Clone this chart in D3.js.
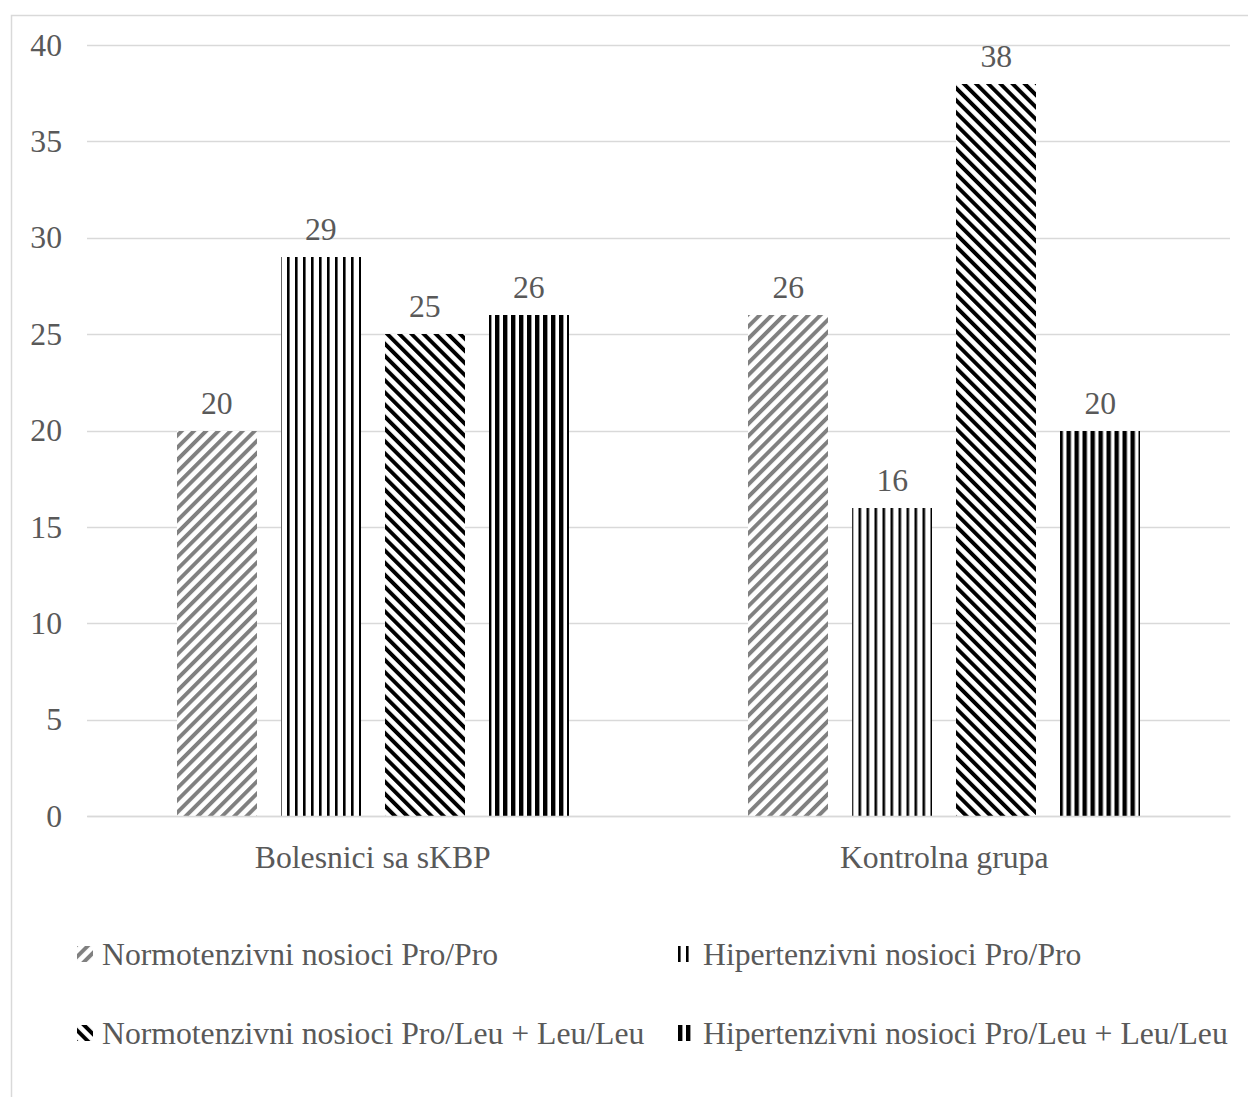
<!DOCTYPE html>
<html>
<head>
<meta charset="utf-8">
<script src="https://cdn.jsdelivr.net/npm/d3@7"></script>
<style>
  html, body { margin: 0; padding: 0; background: #fff; }
  svg { display: block; }
  text { font-family: "Liberation Serif", "Times New Roman", serif; fill: #595959; }
</style>
</head>
<body>
<svg id="chart" width="1248" height="1097"></svg>
<script>
// Groups along the x axis
const categories = ["Bolesnici sa sKBP", "Kontrolna grupa"];

// Series (one bar per group each)
const seriesNames = [
  "Normotenzivni nosioci Pro/Pro",
  "Hipertenzivni nosioci Pro/Pro",
  "Normotenzivni nosioci Pro/Leu + Leu/Leu",
  "Hipertenzivni nosioci Pro/Leu + Leu/Leu"
];
const normoProPro = [20, 26];
const hiperProPro = [29, 16];
const normoProLeu = [25, 38];
const hiperProLeu = [26, 20];
const seriesValues = [normoProPro, hiperProPro, normoProLeu, hiperProLeu];

const yTicks = [0, 5, 10, 15, 20, 25, 30, 35, 40];

const svg = d3.select("#chart");
const FONT = 31.7;

// Fill patterns for each series
const defs = svg.append("defs");
function stripes(id, period, thick, color, angle) {
  const p = defs.append("pattern")
    .attr("id", id)
    .attr("patternUnits", "userSpaceOnUse")
    .attr("width", period)
    .attr("height", period)
    .attr("patternTransform", angle ? `rotate(${angle})` : null);
  p.append("rect").attr("width", period).attr("height", period).attr("fill", "#fff");
  p.append("rect").attr("x", 0).attr("y", 0)
    .attr("width", thick).attr("height", period).attr("fill", color);
}
stripes("pat0", 8.6, 3.9, "#808080", 45);   // wide upward diagonal, grey
stripes("pat1", 8, 2.6, "#000", 0);         // narrow vertical
stripes("pat2", 8.6, 3.9, "#000", -45);     // wide downward diagonal
stripes("pat3", 8, 4.4, "#000", 0);         // dark vertical
const fills = ["url(#pat0)", "url(#pat1)", "url(#pat2)", "url(#pat3)"];

// Chart area frame
svg.append("rect")
  .attr("x", 11.5).attr("y", 15.5)
  .attr("width", 1300).attr("height", 1200)
  .attr("fill", "none").attr("stroke", "#d9d9d9").attr("stroke-width", 1.5);

const plot = { left: 87, right: 1230, top: 45, bottom: 816 };

const y = d3.scaleLinear().domain([0, 40]).range([plot.bottom, plot.top]);
const x0 = d3.scaleBand().domain(categories).range([plot.left, plot.right]).padding(0);
const x1 = d3.scaleBand().domain(d3.range(seriesNames.length))
  .range([0, x0.bandwidth()]).paddingInner(0.2308).paddingOuter(0.863);

// Gridlines
svg.append("g")
  .selectAll("line")
  .data(yTicks)
  .join("line")
  .attr("x1", plot.left).attr("x2", plot.right)
  .attr("y1", d => Math.round(y(d)) + 0.5).attr("y2", d => Math.round(y(d)) + 0.5)
  .attr("stroke", "#d9d9d9").attr("stroke-width", 1.5);

// Y axis labels
const yAxis = d3.axisLeft(y).tickValues(yTicks).tickSize(0).tickPadding(0);
const yg = svg.append("g").attr("transform", `translate(62,0)`).call(yAxis);
yg.select(".domain").remove();
yg.selectAll("text")
  .attr("font-size", FONT).attr("fill", "#595959")
  .attr("font-family", "Liberation Serif, serif");

// Bars
const groups = svg.append("g")
  .selectAll("g")
  .data(categories)
  .join("g")
  .attr("transform", c => `translate(${x0(c)},0)`);

groups.selectAll("rect")
  .data((c, ci) => seriesValues.map((vals, si) => ({ si, v: vals[ci] })))
  .join("rect")
  .attr("x", d => x1(d.si))
  .attr("width", x1.bandwidth())
  .attr("y", d => y(d.v))
  .attr("height", d => y(0) - y(d.v))
  .attr("fill", d => fills[d.si])
  .attr("shape-rendering", "crispEdges");

// Value labels
groups.selectAll("text.val")
  .data((c, ci) => seriesValues.map((vals, si) => ({ si, v: vals[ci] })))
  .join("text")
  .attr("class", "val")
  .attr("x", d => x1(d.si) + x1.bandwidth() / 2)
  .attr("y", d => y(d.v) - 17)
  .attr("text-anchor", "middle")
  .attr("font-size", FONT)
  .text(d => d.v);

// X axis category labels
const xAxis = d3.axisBottom(x0).tickSize(0).tickPadding(0);
const xg = svg.append("g").attr("transform", `translate(0,${plot.bottom})`).call(xAxis);
xg.select(".domain").attr("stroke", "#d9d9d9").attr("stroke-width", 1.5);
xg.selectAll("text")
  .attr("font-size", FONT).attr("fill", "#595959")
  .attr("font-family", "Liberation Serif, serif")
  .attr("dy", 0).attr("y", 52);

// Legend
const legendPos = [
  { x: 77, y: 954 }, { x: 678, y: 954 },
  { x: 77, y: 1033 }, { x: 678, y: 1033 }
];
const lg = svg.append("g").selectAll("g")
  .data(seriesNames)
  .join("g")
  .attr("transform", (d, i) => `translate(${legendPos[i].x},${legendPos[i].y})`);
lg.append("rect")
  .attr("x", 0).attr("y", -8).attr("width", 16).attr("height", 16)
  .attr("fill", (d, i) => fills[i]);
lg.append("text")
  .attr("x", 25).attr("y", 11)
  .attr("font-size", FONT)
  .text(d => d);
</script>
</body>
</html>
